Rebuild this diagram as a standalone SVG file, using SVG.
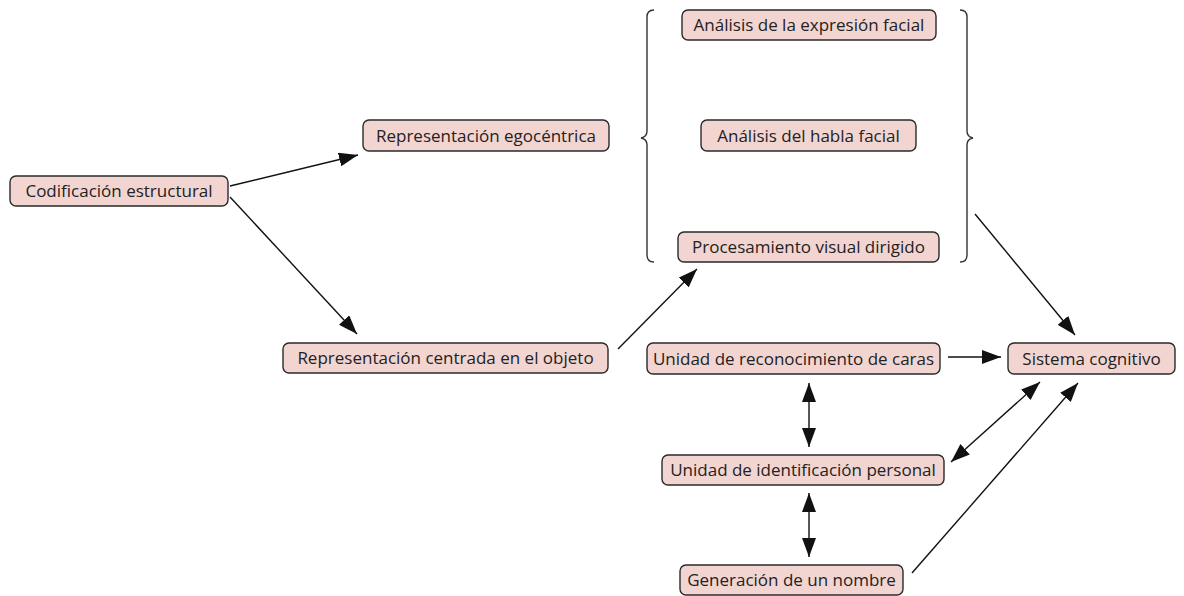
<svg xmlns="http://www.w3.org/2000/svg" width="1184" height="596" viewBox="0 0 1184 596">
  <style>
    .box { fill: #f2d5d1; stroke: #2a2a2a; stroke-width: 1.4; }
    .lbl { font-family: "Open Sans", "Noto Sans", "DejaVu Sans", sans-serif; font-size: 17px; fill: #222; text-anchor: middle; }
    .edge { stroke: #111; stroke-width: 1.4; fill: none; }
    .brace { stroke: #333; stroke-width: 1.4; fill: none; }
  </style>
  <defs>
    <marker id="arrow" viewBox="0 0 19 14" refX="19" refY="7" markerWidth="19" markerHeight="14" markerUnits="userSpaceOnUse" orient="auto-start-reverse">
      <path d="M0,0 L19,7 L0,14 Z" fill="#111"/>
    </marker>
  </defs>
  <rect width="1184" height="596" fill="#ffffff"/>

  <!-- braces grouping the three facial analysis modules -->
  <g id="braces">
    <path class="brace" d="M654,10 Q647,10 647,17 L647,131 Q647,137 641,138 Q647,139 647,145 L647,255 Q647,262 654,262"/>
    <path class="brace" d="M960,10 Q967,10 967,17 L967,131 Q967,137 973,138 Q967,139 967,145 L967,255 Q967,262 960,262"/>
  </g>

  <g id="connectors">
    <line class="edge" x1="230" y1="186" x2="358" y2="155" marker-end="url(#arrow)"/>
    <line class="edge" x1="230" y1="197" x2="357" y2="334" marker-end="url(#arrow)"/>
    <line class="edge" x1="618" y1="349" x2="697" y2="269" marker-end="url(#arrow)"/>
    <line class="edge" x1="975" y1="214" x2="1075" y2="335" marker-end="url(#arrow)"/>
    <line class="edge" x1="948" y1="357" x2="1001" y2="357" marker-end="url(#arrow)"/>
    <line class="edge" x1="809" y1="383" x2="809" y2="447" marker-start="url(#arrow)" marker-end="url(#arrow)"/>
    <line class="edge" x1="809" y1="493" x2="809" y2="557" marker-start="url(#arrow)" marker-end="url(#arrow)"/>
    <line class="edge" x1="951" y1="462" x2="1040" y2="382" marker-start="url(#arrow)" marker-end="url(#arrow)"/>
    <line class="edge" x1="912" y1="573" x2="1078" y2="383" marker-end="url(#arrow)"/>
  </g>

  <g id="codificacion">
    <rect class="box" x="10" y="176" width="218" height="30" rx="6"/>
    <text class="lbl" x="119" y="197">Codificación estructural</text>
  </g>
  <g id="egocentrica">
    <rect class="box" x="363" y="120" width="246" height="31" rx="6"/>
    <text class="lbl" x="486" y="141.5">Representación egocéntrica</text>
  </g>
  <g id="centrada">
    <rect class="box" x="283" y="343" width="325" height="30" rx="6"/>
    <text class="lbl" x="445.5" y="364">Representación centrada en el objeto</text>
  </g>
  <g id="expresion">
    <rect class="box" x="682" y="10" width="254" height="30" rx="6"/>
    <text class="lbl" x="809" y="31">Análisis de la expresión facial</text>
  </g>
  <g id="habla">
    <rect class="box" x="701" y="120" width="215" height="31" rx="6"/>
    <text class="lbl" x="808.5" y="141.5">Análisis del habla facial</text>
  </g>
  <g id="procesamiento">
    <rect class="box" x="678" y="232" width="261" height="30" rx="6"/>
    <text class="lbl" x="808.5" y="253">Procesamiento visual dirigido</text>
  </g>
  <g id="reconocimiento">
    <rect class="box" x="647" y="343" width="293" height="31" rx="6"/>
    <text class="lbl" x="793.5" y="364.5">Unidad de reconocimiento de caras</text>
  </g>
  <g id="sistema">
    <rect class="box" x="1008" y="343" width="167" height="31" rx="6"/>
    <text class="lbl" x="1091.5" y="364.5">Sistema cognitivo</text>
  </g>
  <g id="identificacion">
    <rect class="box" x="662" y="455" width="282" height="30" rx="6"/>
    <text class="lbl" x="803" y="476">Unidad de identificación personal</text>
  </g>
  <g id="nombre">
    <rect class="box" x="680" y="565" width="223" height="30" rx="6"/>
    <text class="lbl" x="791.5" y="586">Generación de un nombre</text>
  </g>
</svg>
